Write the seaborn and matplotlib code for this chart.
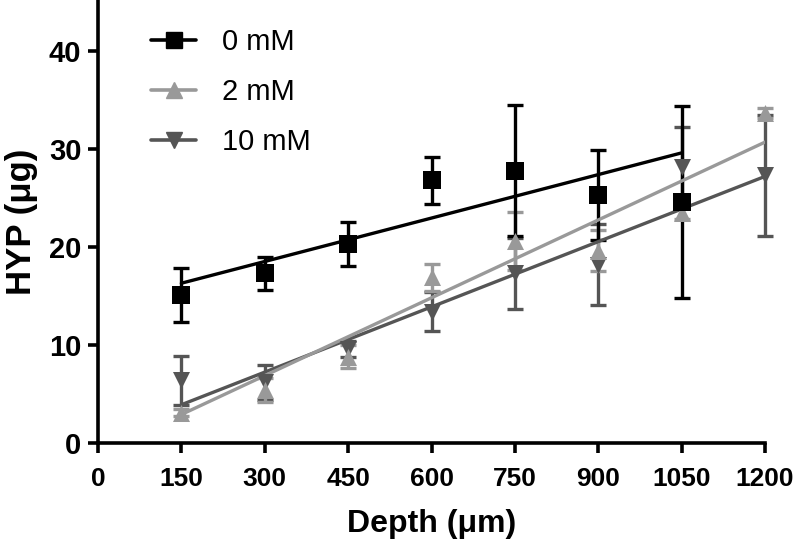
import numpy as np
import pandas as pd
import matplotlib
matplotlib.use('Agg')
import matplotlib.pyplot as plt
from matplotlib.lines import Line2D
import seaborn as sns

# Données
depth = [150, 300, 450, 600, 750, 900, 1050, 1200]
groupes = ['0 mM', '2 mM', '10 mM']

hyp_0 = [15.1, 17.3, 20.3, 26.8, 27.8, 25.3, 24.6]
err_0 = [2.8, 1.7, 2.2, 2.4, 6.7, 4.6, 9.8]

hyp_2 = [3.1, 5.4, 8.8, 16.9, 20.6, 19.6, 23.5, 33.7]
err_2 = [0.4, 1.2, 1.2, 1.4, 3.0, 2.1, 0.6, 0.5]

hyp_10 = [6.4, 6.2, 9.6, 13.4, 17.3, 18.2, 28.2, 27.3]
err_10 = [2.5, 1.8, 0.8, 2.0, 3.6, 4.1, 4.0, 6.2]

# Droites de régression (valeurs aux extrémités)
fit_x_0 = [150, 1050]
fit_y_0 = [16.3, 29.6]
fit_x_2 = [150, 1200]
fit_y_2 = [2.9, 30.7]
fit_x_10 = [150, 1200]
fit_y_10 = [3.9, 27.2]

couleurs = {'0 mM': '#000000', '2 mM': '#999999', '10 mM': '#555555'}
marqueurs = {'0 mM': 's', '2 mM': '^', '10 mM': 'v'}

series = {
    '0 mM': (depth[:7], hyp_0, err_0, fit_x_0, fit_y_0),
    '2 mM': (depth, hyp_2, err_2, fit_x_2, fit_y_2),
    '10 mM': (depth, hyp_10, err_10, fit_x_10, fit_y_10),
}

sns.set_style('ticks')
plt.rcParams['font.family'] = ['Liberation Sans', 'DejaVu Sans']
for k in ['text.color', 'axes.labelcolor', 'xtick.color', 'ytick.color', 'axes.edgecolor']:
    plt.rcParams[k] = 'black'

fig = plt.figure(figsize=(8, 5.53), dpi=100)
ax = fig.add_axes([0.1225, 0.199, 0.8338, 0.801])

# Ordre de dessin : 10 mM, 2 mM puis 0 mM au-dessus
for g in ['10 mM', '2 mM', '0 mM']:
    x, y, e, fx, fy = series[g]
    c = couleurs[g]
    eb = ax.errorbar(x, y, yerr=e, fmt='none', ecolor=c, elinewidth=2.4,
                     capsize=6, capthick=2.4, zorder=2)
    for art in eb.get_children():
        art.set_clip_on(False)
    fit = pd.DataFrame({'x': fx, 'y': fy})
    sns.lineplot(data=fit, x='x', y='y', color=c, linewidth=2.4, ax=ax, zorder=3)
    pts = pd.DataFrame({'x': x, 'y': y})
    sns.scatterplot(data=pts, x='x', y='y', color=c, marker=marqueurs[g],
                    s=150, linewidth=0, ax=ax, zorder=4, clip_on=False)

ax.set_xlim(0, 1200)
ax.set_ylim(0, 45.2)
ax.set_xticks(np.arange(0, 1201, 150))
ax.set_yticks([0, 10, 20, 30, 40])
sns.despine(ax=ax)
for s in ['left', 'bottom']:
    ax.spines[s].set_linewidth(2.6)
ax.tick_params(width=2.6, length=7)
ax.tick_params(axis='x', labelsize=19, pad=10)
ax.tick_params(axis='y', labelsize=21, pad=5)
for lab in ax.get_xticklabels() + ax.get_yticklabels():
    lab.set_fontweight('bold')

ax.set_xlabel('Depth (μm)', fontsize=23, fontweight='bold', labelpad=13)
ax.set_ylabel('HYP (μg)', fontsize=25, fontweight='bold', labelpad=8)

handles = [Line2D([0], [0], color=couleurs[g], marker=marqueurs[g], markersize=12,
                  linewidth=2.6) for g in groupes]
ax.legend(handles, groupes, loc='upper left', bbox_to_anchor=(0.04, 0.995),
          frameon=False, fontsize=21, handlelength=1.55, handletextpad=0.9,
          labelspacing=0.75)

fig.savefig('out.png', dpi=100)
